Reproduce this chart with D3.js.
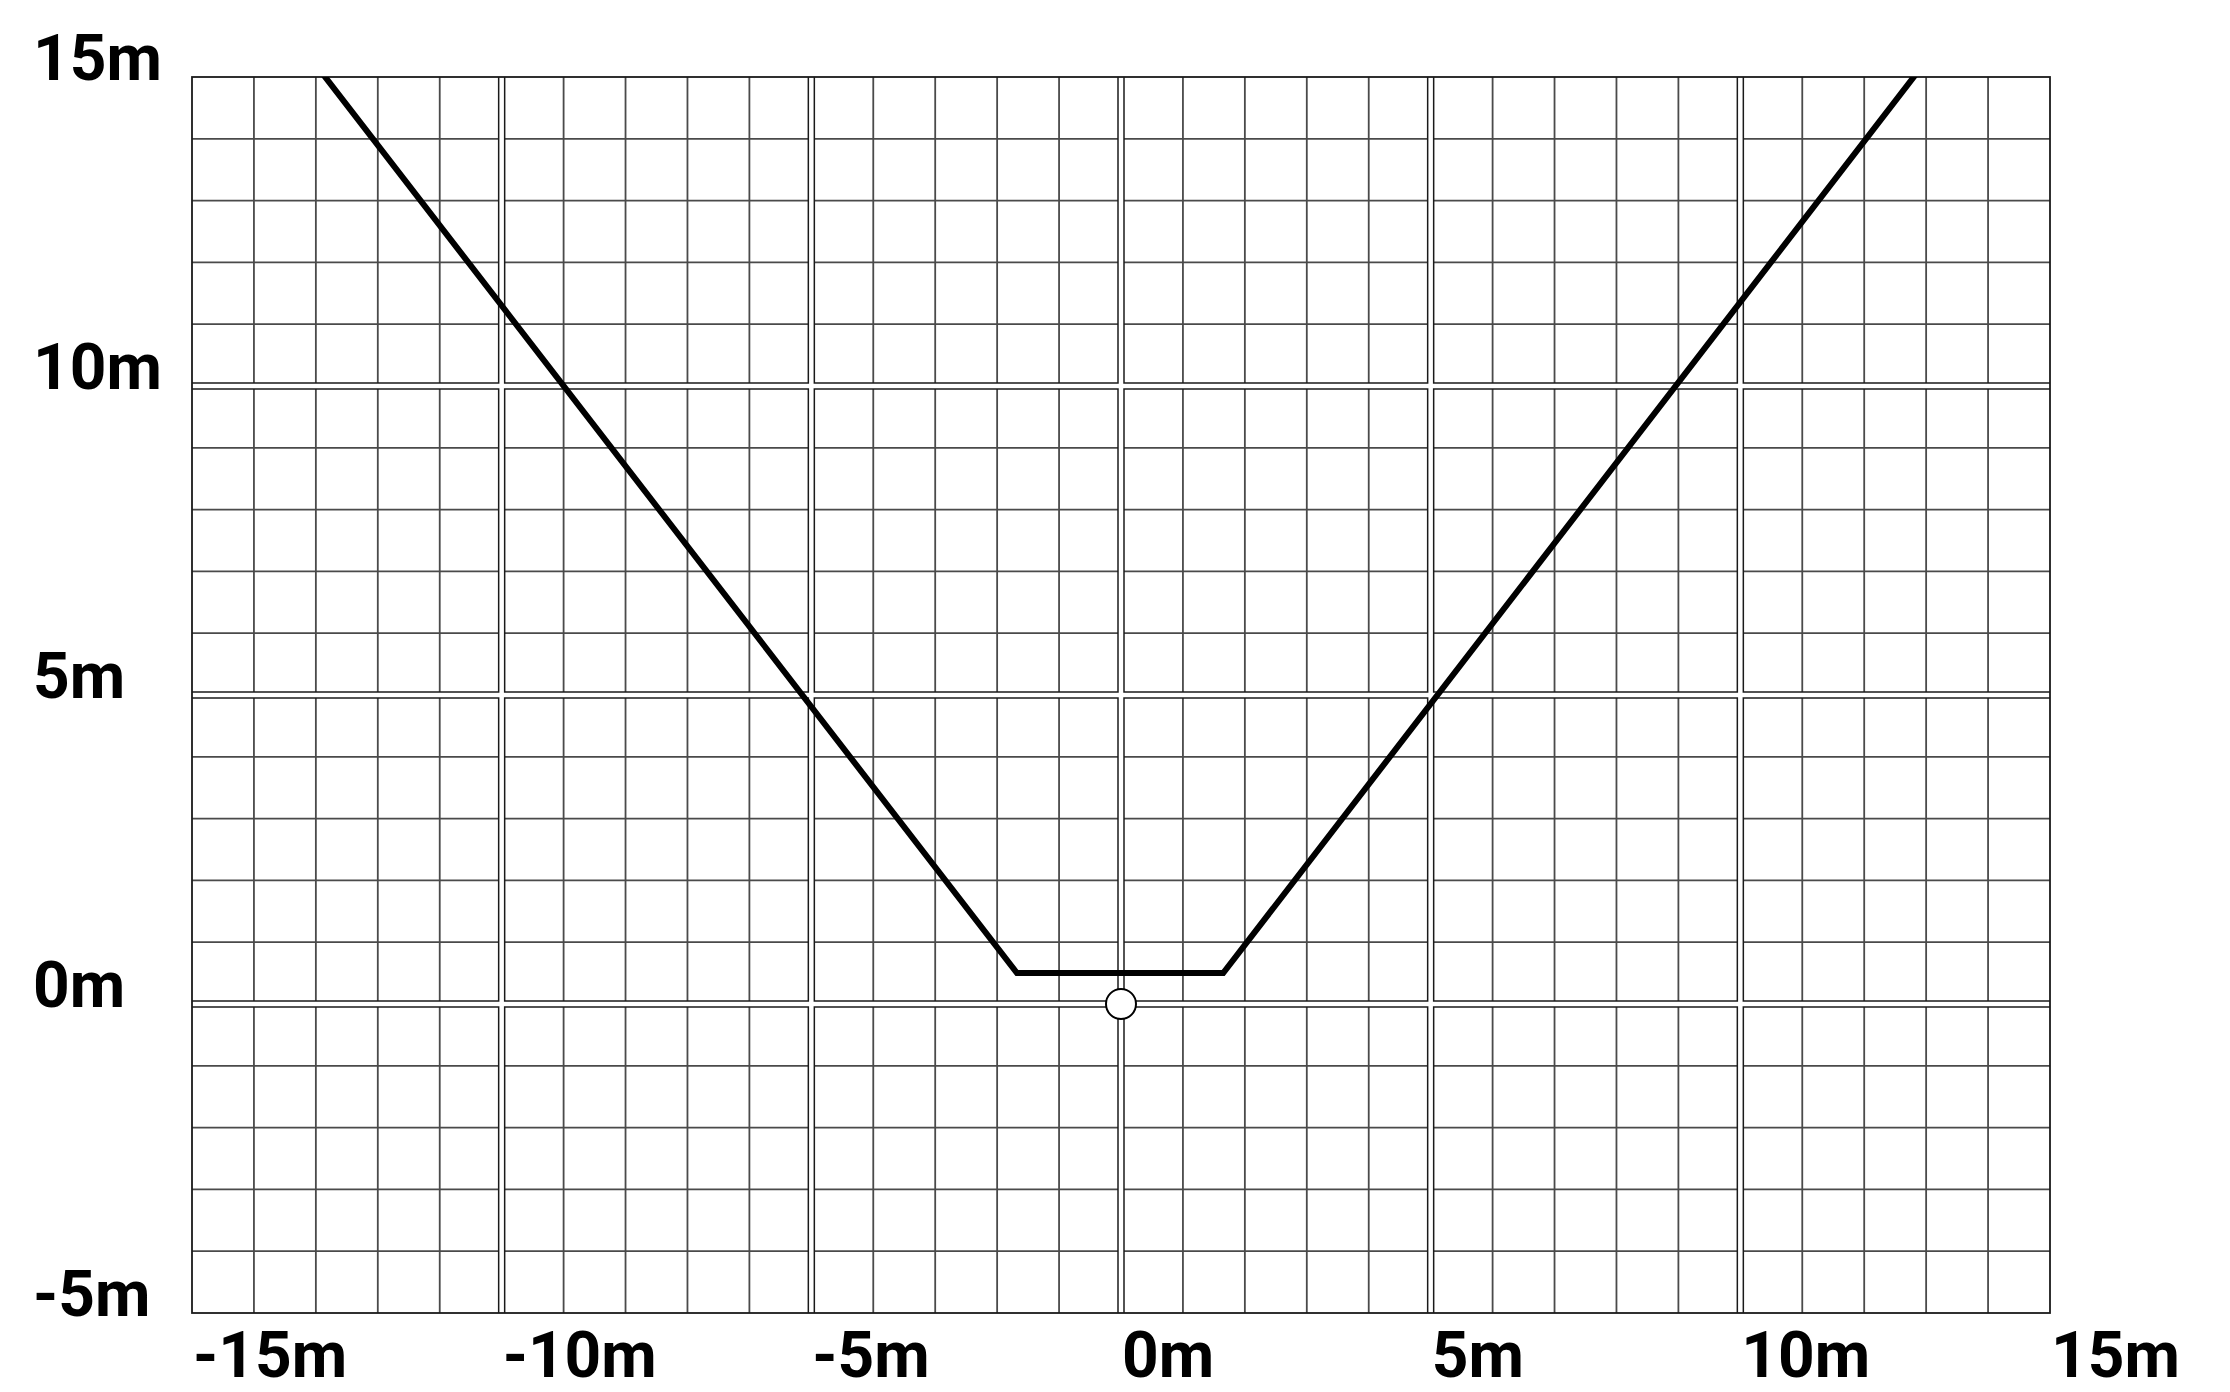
<!DOCTYPE html>
<html>
<head>
<meta charset="utf-8">
<script src="https://cdn.jsdelivr.net/npm/d3@7"></script>
<style>
  html, body { margin: 0; padding: 0; background: #fff; }
  svg { display: block; }
  .lbl { font-family: Roboto, "Open Sans", sans-serif; font-weight: 700; font-size: 64px; fill: #000; }
</style>
</head>
<body>
<div id="chart"></div>
<script>
const WIDTH = 2230;
const HEIGHT = 1392;
const MARGIN = { top: 77, right: 180, bottom: 79, left: 192 };

// axis ticks (metres)
const xTicks = [-15, -10, -5, 0, 5, 10, 15];
const yTicks = [-5, 0, 5, 10, 15];
const xGrid = d3.range(-15, 16);
const yGrid = d3.range(-5, 16);

// coverage outline
const pathX = [-12.85, -1.68, 1.65, 12.8];
const pathY = [15, 0.5, 0.5, 15];

// origin marker
const originX = [0];
const originY = [0];

const x = d3.scaleLinear().domain([-15, 15]).range([MARGIN.left, WIDTH - MARGIN.right]);
const y = d3.scaleLinear().domain([-5, 15]).range([HEIGHT - MARGIN.bottom, MARGIN.top]);

const svg = d3.select('#chart')
  .append('svg')
    .attr('width', WIDTH)
    .attr('height', HEIGHT);

svg.append('clipPath').attr('id', 'plotclip')
  .append('rect')
    .attr('x', x(-15)).attr('y', y(15))
    .attr('width', x(15) - x(-15)).attr('height', y(-5) - y(15));

const grid = svg.append('g').attr('class', 'grid');

const isMajor = d => d % 5 === 0;
const isEdgeX = d => d === -15 || d === 15;
const isEdgeY = d => d === -5 || d === 15;

// minor lines
grid.selectAll('line.vminor')
  .data(xGrid.filter(d => !isMajor(d)))
  .enter().append('line')
    .attr('x1', d => x(d)).attr('x2', d => x(d))
    .attr('y1', y(15)).attr('y2', y(-5))
    .attr('stroke', '#4a4a4a').attr('stroke-width', 1.8);

grid.selectAll('line.hminor')
  .data(yGrid.filter(d => !isMajor(d)))
  .enter().append('line')
    .attr('x1', x(-15)).attr('x2', x(15))
    .attr('y1', d => y(d)).attr('y2', d => y(d))
    .attr('stroke', '#4a4a4a').attr('stroke-width', 1.8);

// major lines: dark casing then white centre, so they read as double lines
const vMajor = xGrid.filter(d => isMajor(d) && !isEdgeX(d));
const hMajor = yGrid.filter(d => isMajor(d) && !isEdgeY(d));

function drawMajor(cls, color, w) {
  grid.selectAll('line.v' + cls)
    .data(vMajor)
    .enter().append('line')
      .attr('x1', d => x(d)).attr('x2', d => x(d))
      .attr('y1', y(15)).attr('y2', y(-5))
      .attr('stroke', color).attr('stroke-width', w);
  grid.selectAll('line.h' + cls)
    .data(hMajor)
    .enter().append('line')
      .attr('x1', x(-15)).attr('x2', x(15))
      .attr('y1', d => y(d)).attr('y2', d => y(d))
      .attr('stroke', color).attr('stroke-width', w);
}
drawMajor('case', '#1a1a1a', 7.5);
drawMajor('core', '#fff', 4.5);

// outer border
grid.append('rect')
  .attr('x', x(-15)).attr('y', y(15))
  .attr('width', x(15) - x(-15)).attr('height', y(-5) - y(15))
  .attr('fill', 'none')
  .attr('stroke', '#1a1a1a').attr('stroke-width', 1.8);

// origin marker
svg.selectAll('circle.origin')
  .data(originX.map((d, i) => [d, originY[i]]))
  .enter().append('circle')
    .attr('cx', d => x(d[0])).attr('cy', d => y(d[1]))
    .attr('r', 15)
    .attr('fill', '#fff')
    .attr('stroke', '#000').attr('stroke-width', 2);

// outline
const line = d3.line().x(d => x(d[0])).y(d => y(d[1]));
svg.append('path')
  .attr('clip-path', 'url(#plotclip)')
  .attr('d', line(pathX.map((d, i) => [d, pathY[i]])))
  .attr('fill', 'none')
  .attr('stroke', '#000')
  .attr('stroke-width', 6)
  .attr('stroke-linecap', 'square')
  .attr('stroke-linejoin', 'miter');

// labels: x labels start at the tick, y labels sit on the line
svg.selectAll('text.xl')
  .data(xTicks)
  .enter().append('text')
    .attr('class', 'lbl')
    .attr('x', d => x(d) + 1)
    .attr('y', y(-5) + 64)
    .attr('text-anchor', 'start')
    .text(d => d + 'm');

svg.selectAll('text.yl')
  .data(yTicks)
  .enter().append('text')
    .attr('class', 'lbl')
    .attr('x', 33)
    .attr('y', d => y(d) + 3)
    .attr('text-anchor', 'start')
    .text(d => d + 'm');
</script>
</body>
</html>
